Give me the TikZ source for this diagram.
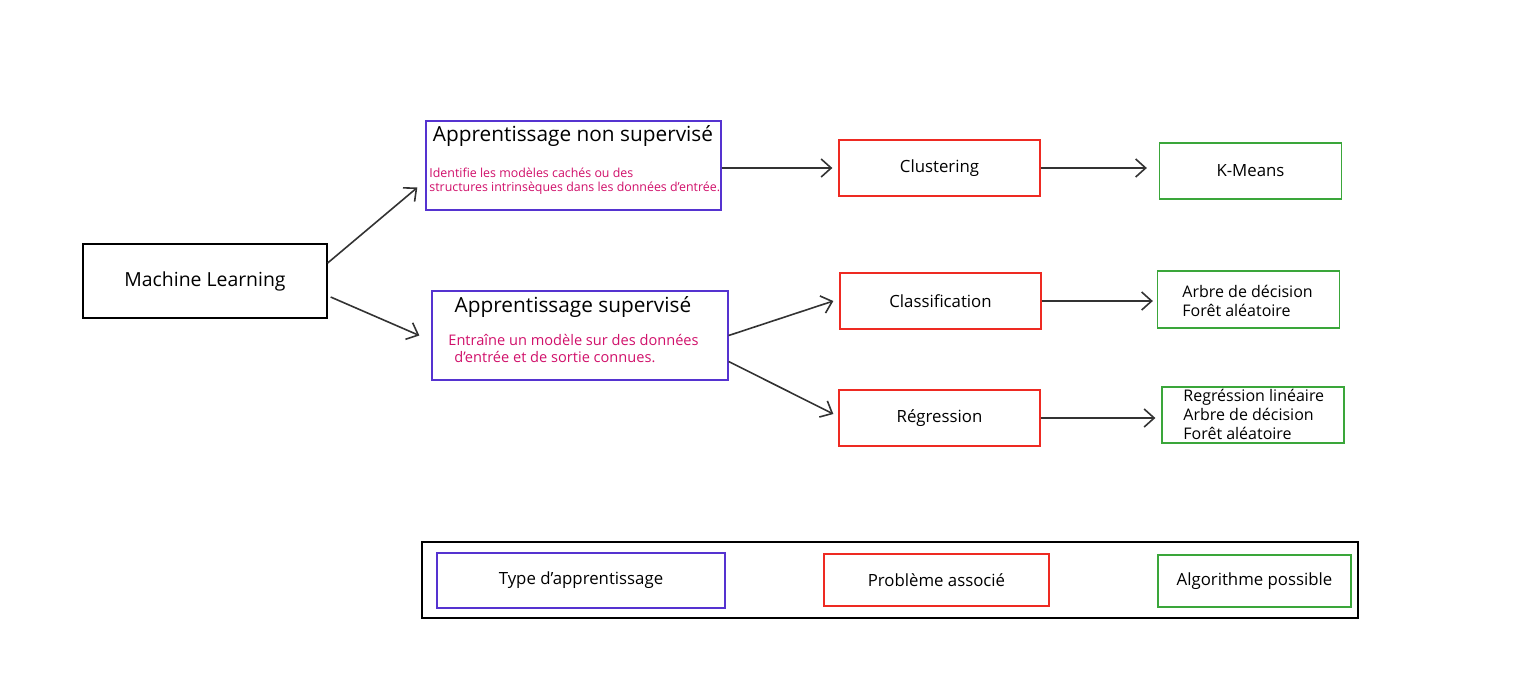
\documentclass[tikz,border=0pt]{standalone}
\usepackage{fontspec}
\setmainfont{Open Sans}
\usetikzlibrary{arrows.meta,positioning}

\definecolor{typecol}{HTML}{5533D0}
\definecolor{probcol}{HTML}{EE2A22}
\definecolor{algocol}{HTML}{3AA63A}
\definecolor{desccol}{HTML}{D0106A}

\tikzset{
    box/.style = {
        draw,
        line width=0.65pt,
        inner sep=0pt
    },
    typebox/.style = {box, draw=typecol},
    probbox/.style = {box, draw=probcol, minimum width=100.5pt, minimum height=28pt},
    algobox/.style = {box, draw=algocol, minimum width=91pt, minimum height=28pt},
    title/.style = {font=\fontsize{10.4}{12}\selectfont},
    desc/.style = {
        text=desccol,
        align=left,
        inner sep=0pt
    },
    label/.style = {font=\fontsize{8.4}{10}\selectfont},
    algos/.style = {
        font=\fontsize{8}{9.5}\selectfont,
        align=left,
        inner sep=0pt
    },
    flow/.style = {
        -{Straight Barb[length=5pt,width=9pt]},
        line width=0.8pt,
        draw=black!80
    }
}

\begin{document}
\begin{tikzpicture}[x=0.5pt,y=-0.5pt]
    \useasboundingbox (0,0) rectangle (1517,676);

    % Root
    \node[box, minimum width=122pt, minimum height=37pt, font=\fontsize{9.7}{11}\selectfont] (ml) at (205,281) {Machine Learning};

    % Learning types
    \node[typebox, minimum width=147.5pt, minimum height=44.5pt] (nonsup) at (573.5,165.5) {};
    \node[title] (nonsuptitle) at (573,136) {Apprentissage non supervisé};
    \node[desc, anchor=west, font=\fontsize{6.2}{7}\selectfont] (nonsupdesc) at (429,181)
        {Identifie les modèles cachés ou des\\structures intrinsèques dans les données d'entrée.};

    \node[typebox, minimum width=148pt, minimum height=44.5pt] (sup) at (580,335.5) {};
    \node[title] (suptitle) at (573,307) {Apprentissage supervisé};
    \node[desc, anchor=west, font=\fontsize{7.3}{8.5}\selectfont] (supdesc) at (448,348.5)
        {Entraîne un modèle sur des données\\\hspace{3pt}d'entrée et de sortie connues.};

    % Problems
    \node[probbox, label] (cluster) at (939.5,168) {Clustering};
    \node[probbox, label] (classif) at (940.5,301) {Classification};
    \node[probbox, label] (regr) at (939.5,418) {Régression};

    % Algorithms
    \node[algobox, label] (kmeans) at (1250.5,171) {K-Means};
    \node[algobox, minimum height=28.5pt] (arbre) at (1248.5,299.5) {};
    \node[algos, anchor=west] (arbretext) at (1182,300.5) {Arbre de décision\\Forêt aléatoire};
    \node[algobox] (reglin) at (1253,415) {};
    \node[algos, anchor=west] (reglintext) at (1183,414.5) {Regréssion linéaire\\Arbre de décision\\Forêt aléatoire};

    % Draw arrows
    \draw[flow] ([yshift=9pt]ml.east) -- ([shift={(-4pt,-11pt)}]nonsup.west);
    \draw[flow] ([shift={(1.5pt,-8pt)}]ml.east) -- ([xshift=-6pt]sup.west);
    \draw[flow, shorten >=3pt] (nonsup.east |- cluster.west) -- (cluster.west);
    \draw[flow, shorten >=6pt] (cluster.east) -- (cluster.east -| kmeans.west);
    \draw[flow] (sup.east) -- ([xshift=-3pt]classif.west);
    \draw[flow] ([yshift=-13pt]sup.east) -- ([shift={(-2.5pt,2pt)}]regr.west);
    \draw[flow, shorten >=2pt] (classif.east) -- (classif.east -| arbre.west);
    \draw[flow, shorten >=3pt] (regr.east) -- (regr.east -| reglin.west);

    % Legend
    \node[box, minimum width=468pt, minimum height=38pt] (legend) at (890,580) {};
    \node[typebox, minimum width=144pt, minimum height=27.5pt, font=\fontsize{8.4}{10}\selectfont] (legtype) at (581,580.5) {Type d'apprentissage};
    \node[probbox, minimum width=112.5pt, minimum height=26pt, font=\fontsize{8.4}{10}\selectfont] (legprob) at (936.5,580) {Problème associé};
    \node[algobox, minimum width=96.5pt, minimum height=26pt, font=\fontsize{8.4}{10}\selectfont] (legalgo) at (1254.5,581) {Algorithme possible};
\end{tikzpicture}
\end{document}
